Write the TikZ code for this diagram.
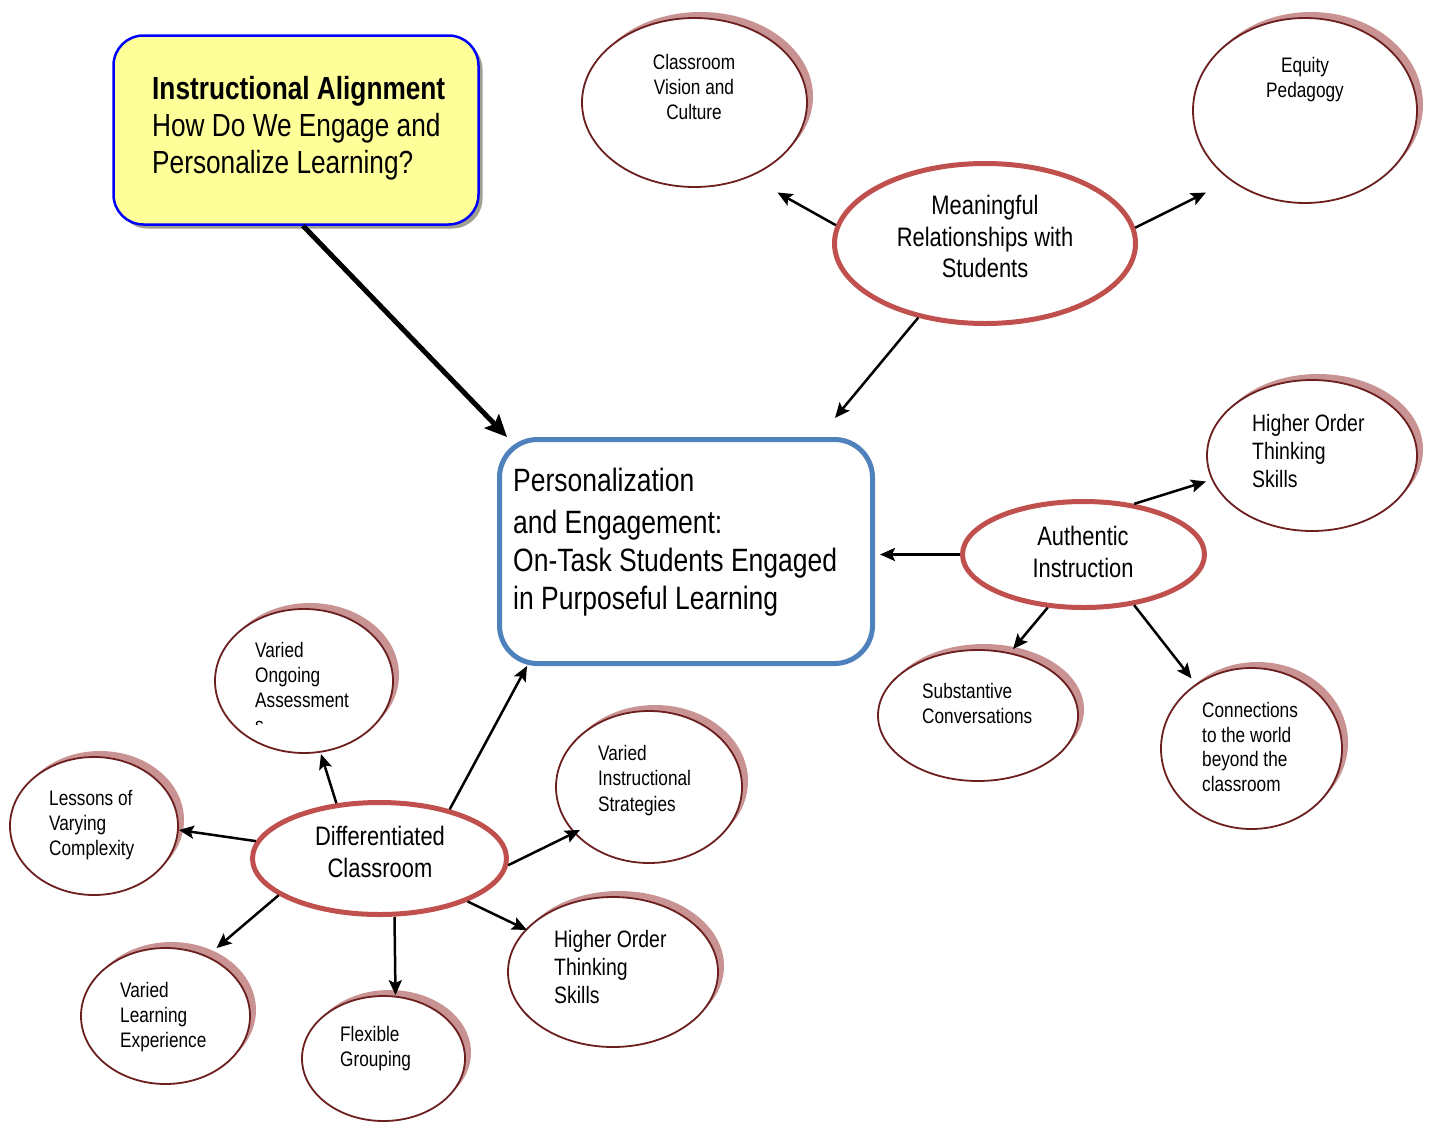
\documentclass[tikz,border=0pt]{standalone}
\usepackage{fontspec}
\setmainfont[FakeStretch=0.82]{Liberation Sans}
\usetikzlibrary{arrows.meta,shapes.geometric,shadows,calc}
\definecolor{redb}{HTML}{C0504D}
\definecolor{darkr}{HTML}{6B1F1F}
\definecolor{shpink}{HTML}{C99393}
\definecolor{blueb}{HTML}{4F81BD}
\definecolor{yel}{HTML}{FFFF99}
\definecolor{yshadow}{HTML}{A0A090}
\tikzset{
  bigell/.style={ellipse, draw=redb, line width=5pt, fill=white, inner sep=0pt},
  smell/.style={ellipse, draw=darkr, line width=1.8pt, fill=white, inner sep=0pt,
    general shadow={fill=shpink, shadow xshift=6pt, shadow yshift=6pt}},
  ybox/.style={rectangle, rounded corners=30pt, draw=blue, line width=2.5pt, fill=yel,
    minimum width=365pt, minimum height=189pt, inner sep=0pt,
    general shadow={fill=yshadow, shadow xshift=4pt, shadow yshift=-4pt}},
  cbox/.style={rectangle, rounded corners=38pt, draw=blueb, line width=5pt, fill=white,
    minimum width=373pt, minimum height=224pt, inner sep=0pt},
  ltxt/.style={inner sep=0pt, align=left, anchor=north west},
  ctxt/.style={inner sep=0pt, align=center, anchor=north},
  smallf/.style={font=\fontsize{21}{25}\selectfont},
  midf/.style={font=\fontsize{23.7}{28}\selectfont},
  bigf/.style={font=\fontsize{26.7}{31.5}\selectfont},
  arr/.style={line width=2.5pt, -{Stealth[length=15pt,width=13pt,inset=3pt]}},
  bigarr/.style={line width=5pt, -{Stealth[length=22pt,width=20pt,inset=4pt]}}
}
\begin{document}
\begin{tikzpicture}[x=1pt,y=-1pt]
\useasboundingbox (0,0) rectangle (1430,1122);
% main boxes
\node[ybox] (yb) at (296,130) {};
\node[ltxt, font=\fontsize{32}{37}\selectfont] (ybt) at (152,76.5)
  {\textbf{Instructional Alignment}\\How Do We Engage and\\Personalize Learning?};
\node[cbox] (cb) at (686,551.5) {};
\node[ltxt, font=\fontsize{32.3}{38}\selectfont] (cbt) at (513,468)
  {Personalization\\[4pt]and Engagement:\\On-Task Students Engaged\\in Purposeful Learning};
% big ellipses
\node[bigell, minimum width=301pt, minimum height=160pt] (mr) at (985,243.5) {};
\node[ctxt, bigf] (mrt) at (985,195) {Meaningful\\Relationships with\\Students};
\node[bigell, minimum width=242pt, minimum height=106pt] (ai) at (1083.5,554.5) {};
\node[ctxt, bigf] (ait) at (1083,526) {Authentic\\Instruction};
\node[bigell, minimum width=254pt, minimum height=112pt] (dc) at (379.5,858.5) {};
\node[ctxt, bigf] (dct) at (380,826) {Differentiated\\Classroom};
% small ellipses
\node[smell, minimum width=225pt, minimum height=169pt] (cv) at (694.5,102.5) {};
\node[ctxt, smallf] (cvt) at (694,54.5) {Classroom\\Vision and\\Culture};
\node[smell, minimum width=224pt, minimum height=185pt] (eq) at (1305,110.5) {};
\node[ctxt, smallf] (eqt) at (1305,57.5) {Equity\\Pedagogy};
\node[smell, minimum width=210pt, minimum height=151pt] (ho1) at (1312,455.5) {};
\node[ltxt, midf] (ho1t) at (1252,414.5) {Higher Order\\Thinking\\Skills};
\node[smell, minimum width=200pt, minimum height=131pt] (sc) at (978,715.5) {};
\node[ltxt, smallf] (sct) at (922,683) {Substantive\\Conversations};
\node[smell, minimum width=181pt, minimum height=161pt] (cn) at (1251.5,748.5) {};
\node[ltxt, font=\fontsize{21}{24.7}\selectfont] (cnt) at (1202,702)
  {Connections\\to the world\\beyond the\\classroom};
\node[smell, minimum width=186pt, minimum height=152pt] (vi) at (649,787) {};
\node[ltxt, font=\fontsize{21}{25.5}\selectfont] (vit) at (598,745)
  {Varied\\Instructional\\Strategies};
\node[smell, minimum width=210pt, minimum height=150pt] (hb) at (613,972) {};
\node[ltxt, midf] (hbt) at (554,930.5) {Higher Order\\Thinking\\Skills};
\node[smell, minimum width=163pt, minimum height=125pt] (fg) at (383.5,1058.5) {};
\node[ltxt, smallf] (fgt) at (340,1026) {Flexible\\Grouping};
\node[smell, minimum width=169pt, minimum height=136pt] (vl) at (165.5,1016) {};
\node[ltxt, smallf] (vlt) at (120,982) {Varied\\Learning\\Experience};
\node[smell, minimum width=168pt, minimum height=138pt] (lc) at (94,826) {};
\node[ltxt, smallf] (lct) at (49,790) {Lessons of\\Varying\\Complexity};
\node[smell, minimum width=178pt, minimum height=144pt] (vo) at (304,681) {};
\begin{scope}
\clip (200,600) rectangle (400,724);
\node[ltxt, smallf] (vot) at (255,642) {Varied\\Ongoing\\Assessment\\s};
\end{scope}
% arrows
\draw[bigarr] ($(yb.south)+(7,0)$) -- ($(cb.north west)+(10,0)$);
\draw[arr] (mr.228) -- ($(cb.north east)+(-40,-19)$);
\draw[arr] (mr.173.6) -- ($(cv.center)+(83,90)$);
\draw[arr] (mr.6.4) -- ($(eq.center)+(-99,82)$);
\draw[arr, shorten >=5pt] (ai.west) -- (ai.west -| cb.east);
\draw[arr] (ai.45) -- ($(ho1.center)+(-106,26)$);
\draw[arr] (ai.236) -- ($(sc.north)+(35,0)$);
\draw[arr] (ai.315) -- ($(cn.center)+(-60,-70)$);
\draw[arr] (dc.35) -- ($(cb.south west)+(30,0)$);
\draw[arr] (dc.128) -- ($(vo.center)+(17,73)$);
\draw[arr] (dc.172) -- ($(lc.east)+(0,4)$);
\draw[arr] (dc.200) -- ($(vl.north)+(51,1)$);
\draw[arr] ($(dc.south)+(15,0)$) -- ($(fg.north)+(12,0)$);
\draw[arr] (dc.-26) -- ($(hb.center)+(-86,-42)$);
\draw[arr] (dc.-3) -- ($(vi.center)+(-69,43)$);
\end{tikzpicture}
\end{document}
